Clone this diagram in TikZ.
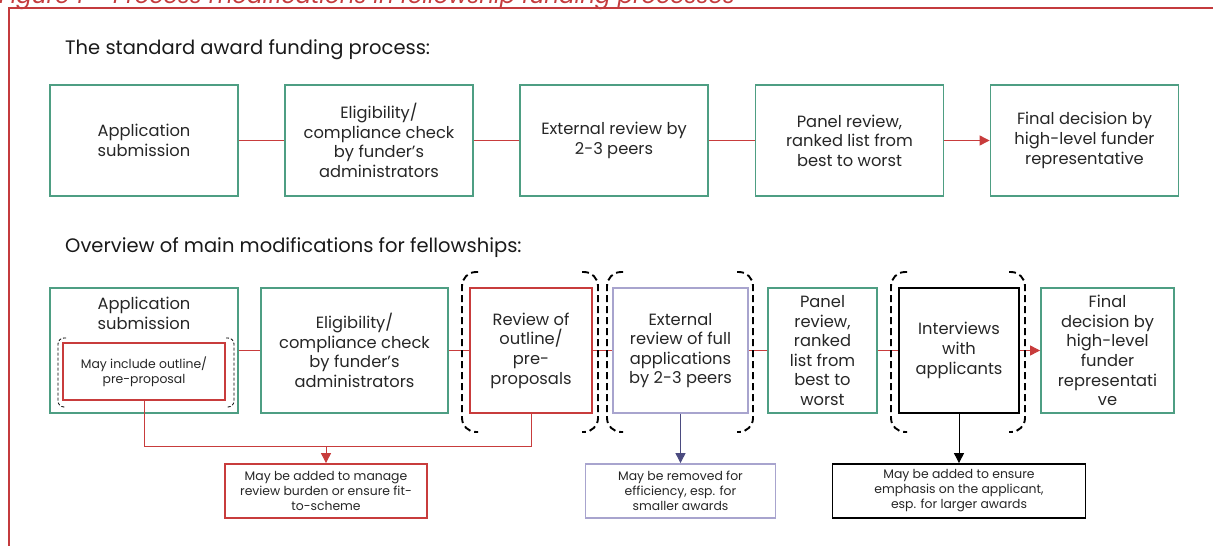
\documentclass[tikz,border=0pt]{standalone}
\usepackage{fontspec}
\setmainfont{Poppins}
\usetikzlibrary{arrows.meta}
\definecolor{grn}{HTML}{4E9E83}
\definecolor{rd}{HTML}{C83C3C}
\definecolor{frm}{HTML}{C43B3D}
\definecolor{lav}{HTML}{A8A4CE}
\definecolor{slate}{HTML}{4B4B80}
\begin{document}
\begin{tikzpicture}[x=1pt,y=-1pt,
  box/.style={draw, line width=1.8pt, align=center, inner sep=1pt, font=\fontsize{16.3}{19.6}\selectfont, text=black!85},
  gbox/.style={box, draw=grn},
  rbox/.style={box, draw=rd},
  lbox/.style={box, draw=lav},
  kbox/.style={box, draw=black},
  small/.style={font=\fontsize{12.4}{15}\selectfont},
  link/.style={draw=rd, line width=0.9pt},
  redarrow/.style={link, -{Triangle[length=10pt,width=10pt]}},
  brk/.style={draw=black, line width=1.9pt, dash pattern=on 7pt off 4pt, rounded corners=14pt},
  thinbrk/.style={draw=black, line width=0.8pt, dash pattern=on 3pt off 2pt, rounded corners=6pt},
  heading/.style={anchor=base west, font=\fontsize{19.5}{22}\selectfont, text=black!90}
]
\useasboundingbox (0,0) rectangle (1213,546);
% caption (cut at top) and frame
\node[anchor=base west, inner sep=0pt, text=frm, font=\fontsize{23}{26}\itshape] (cap) at (-1,4) {Figure 1 – Process modifications in fellowship funding processes};
\draw[frm, line width=2pt] (9,560) -- (9,8) -- (1230,8);

% headings
\node[heading, inner sep=0pt] (h1) at (65,54) {The standard award funding process:};
\node[heading, inner sep=0pt] (h2) at (65,252) {Overview of main modifications for fellowships:};

% top row
\node[gbox, minimum width=188pt, minimum height=111pt] (t1) at (144,140.5) {Application\\submission};
\node[gbox, minimum width=188pt, minimum height=111pt] (t2) at (379,140.5) {Eligibility/\\compliance check\\by funder’s\\administrators};
\node[gbox, minimum width=188pt, minimum height=111pt] (t3) at (614,140.5) {External review by\\2-3 peers};
\node[gbox, minimum width=188pt, minimum height=111pt] (t4) at (849.5,140.5) {Panel review,\\ranked list from\\best to worst};
\node[gbox, minimum width=188pt, minimum height=111pt] (t5) at (1084.5,140.5) {Final decision by\\high-level funder\\representative};
\draw[link] (t1) -- (t2);
\draw[link] (t2) -- (t3);
\draw[link] (t3) -- (t4);
\draw[redarrow] (t4) -- (t5);

% bottom row
\node[gbox, minimum width=188pt, minimum height=125pt] (b1) at (144,350.5) {};
\node[text=black!85, font=\fontsize{16.3}{19.6}\selectfont, align=center, inner sep=0pt] (b1t) at (144,313.5) {Application\\submission};
\node[rbox, small, minimum width=162pt, minimum height=57pt] (inc) at (144,371.5) {May include outline/\\pre-proposal};
\node[gbox, minimum width=187pt, minimum height=125pt] (b2) at (354.5,350.5) {Eligibility/\\compliance check\\by funder’s\\administrators};
\node[rbox, minimum width=122pt, minimum height=125pt] (b3) at (531,350.5) {Review of\\outline/\\pre-\\proposals};
\node[lbox, minimum width=135pt, minimum height=125pt] (b4) at (680.5,350.5) {External\\review of full\\applications\\by 2-3 peers};
\node[gbox, minimum width=109pt, minimum height=125pt] (b5) at (822.5,350.5) {Panel\\review,\\ranked\\list from\\best to\\worst};
\node[kbox, minimum width=120pt, minimum height=125pt] (b6) at (959,350.5) {Interviews\\with\\applicants};
\node[gbox, minimum width=133pt, minimum height=125pt] (b7) at (1107.5,350.5) {Final\\decision by\\high-level\\funder\\representati\\ve};

\draw[link] (b1) -- (b2);
\draw[link] (b2) -- (b3);
\draw[link] (b3) -- (b4);
\draw[link] (b4) -- (b5);
\draw[link] (b5) -- (b6);
\draw[redarrow] (b6) -- (b7);

% dashed bracket pairs
\draw[thinbrk] (66,338) -- (58,338) -- (58,407) -- (66,407);
\draw[thinbrk] (226,338) -- (234,338) -- (234,407) -- (226,407);
\draw[brk] (478,272) -- (462,272) -- (462,432) -- (478,432);
\draw[brk] (582,272) -- (598,272) -- (598,432) -- (582,432);
\draw[brk] (623,272) -- (607,272) -- (607,432) -- (623,432);
\draw[brk] (737,272) -- (753,272) -- (753,432) -- (737,432);
\draw[brk] (907,272) -- (891,272) -- (891,432) -- (907,432);
\draw[brk] (1009,272) -- (1025,272) -- (1025,432) -- (1009,432);

% lower notes
\node[rbox, small, minimum width=202pt, minimum height=54pt] (n1) at (326,491) {May be added to manage\\review burden or ensure fit-\\to-scheme};
\node[lbox, small, minimum width=190pt, minimum height=54pt] (n2) at (680.5,491) {May be removed for\\efficiency, esp. for\\smaller awards};
\node[kbox, small, minimum width=253pt, minimum height=54pt] (n3) at (959,491) {May be added to ensure\\emphasis on the applicant,\\esp. for larger awards};

\coordinate (j) at (326,446);
\draw[link] (inc.south) |- (j);
\draw[link] (b3.south) |- (j);
\draw[redarrow] (j) -- (n1.north);
\draw[draw=slate, line width=0.9pt, -{Triangle[length=10pt,width=10pt]}] (b4.south) -- (n2.north);
\draw[draw=black, line width=0.9pt, -{Triangle[length=10pt,width=10pt]}] (b6.south) -- (n3.north);
\end{tikzpicture}
\end{document}
